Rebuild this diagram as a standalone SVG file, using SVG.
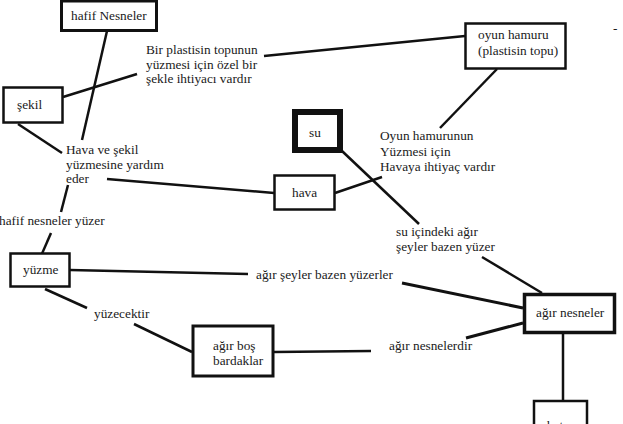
<svg xmlns="http://www.w3.org/2000/svg" width="623" height="424" viewBox="0 0 623 424">
<style>
text{font-family:"Liberation Serif","Times New Roman",serif;font-size:13.3px;fill:#1a1a1a}
.box{fill:#fff;stroke:#111;stroke-width:2.5}
.c{stroke:#111;stroke-width:2.5;fill:none;stroke-linecap:butt}
</style>
<rect width="623" height="424" fill="#fff"/>
<g id="connectors">
<line class="c" x1="107" y1="31" x2="82" y2="140"/>
<line class="c" x1="68" y1="185" x2="61" y2="212"/>
<line class="c" x1="51" y1="233" x2="41" y2="256"/>
<line class="c" x1="63" y1="97" x2="137" y2="74"/>
<line class="c" x1="18" y1="124" x2="62" y2="153"/>
<line class="c" x1="264" y1="56" x2="465" y2="36"/>
<line class="c" x1="497" y1="69" x2="440" y2="128"/>
<line class="c" x1="342" y1="151" x2="419" y2="224"/>
<line class="c" x1="335" y1="193" x2="382" y2="177"/>
<line class="c" x1="107" y1="179" x2="274" y2="193"/>
<line class="c" x1="70" y1="270" x2="248" y2="274"/>
<line class="c" x1="402" y1="283" x2="523" y2="308" style="stroke-width:3"/>
<line class="c" x1="482" y1="257" x2="542" y2="293"/>
<line class="c" x1="523" y1="323" x2="466" y2="338" style="stroke-width:3"/>
<line class="c" x1="274" y1="352" x2="371" y2="351"/>
<line class="c" x1="45" y1="289" x2="87" y2="308"/>
<line class="c" x1="134" y1="324" x2="192" y2="352"/>
<line class="c" x1="563" y1="333" x2="563" y2="400"/>
</g>
<g id="hafif-nesneler"><rect class="box" x="61.5" y="1" width="95" height="29.5" style="stroke-width:3"/><text x="71" y="19.5">hafif Nesneler</text></g>
<g id="sekil"><rect class="box" x="3.5" y="87.5" width="59" height="35"/><text x="17" y="109">şekil</text></g>
<g id="oyun-hamuru"><rect class="box" x="465.5" y="23.5" width="100" height="45"/><text x="478" y="39">oyun hamuru</text><text x="478" y="55">(plastisin topu)</text></g>
<g id="su"><rect class="box" x="295" y="112" width="45" height="38" style="stroke-width:6"/><text x="309" y="137">su</text></g>
<g id="hava"><rect class="box" x="274.5" y="175.5" width="60" height="34"/><text x="292" y="197">hava</text></g>
<g id="yuzme"><rect class="box" x="10.5" y="253.5" width="59" height="33"/><text x="23" y="274">yüzme</text></g>
<g id="agir-bos-bardaklar"><rect class="box" x="193" y="326" width="80" height="50" style="stroke-width:3"/><text x="213" y="350">ağır boş</text><text x="213" y="365">bardaklar</text></g>
<g id="agir-nesneler"><rect class="box" x="524.5" y="294.5" width="90" height="38" style="stroke-width:3.5"/><text x="536" y="317">ağır nesneler</text></g>
<g id="batma"><rect class="box" x="534" y="401" width="53" height="30"/><text x="547" y="430">batma</text></g>
<g id="labels">
<text x="146" y="54">Bir plastisin topunun</text>
<text x="146" y="68.5">yüzmesi için özel bir</text>
<text x="146" y="83">şekle ihtiyacı vardır</text>
<text x="380" y="140">Oyun hamurunun</text>
<text x="380" y="155.5">Yüzmesi için</text>
<text x="380" y="171">Havaya ihtiyaç vardır</text>
<text x="66" y="154">Hava ve şekil</text>
<text x="66" y="168.5">yüzmesine yardım</text>
<text x="66" y="183">eder</text>
<text x="-1" y="225">hafif nesneler yüzer</text>
<text x="256" y="279">ağır şeyler bazen yüzerler</text>
<text x="396" y="236">su içindeki ağır</text>
<text x="396" y="251">şeyler bazen yüzer</text>
<text x="389" y="350">ağır nesnelerdir</text>
<text x="94" y="318">yüzecektir</text>
<text x="613" y="33">-</text>
</g>
</svg>
